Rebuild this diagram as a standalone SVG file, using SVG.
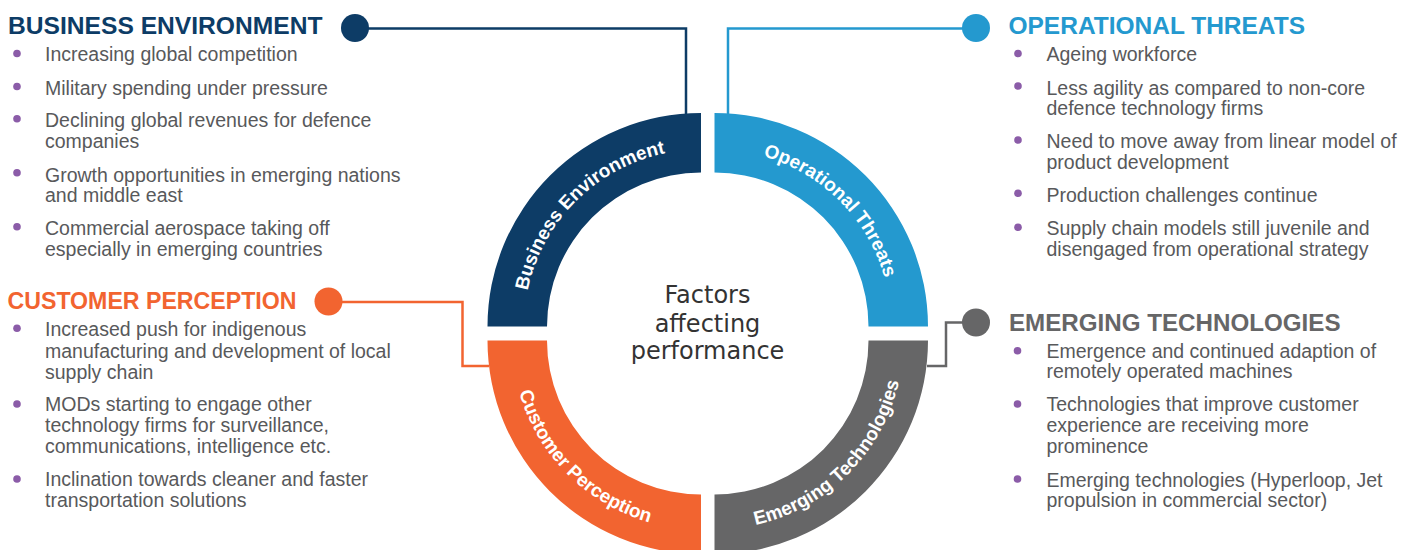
<svg xmlns="http://www.w3.org/2000/svg" width="1407" height="550" viewBox="0 0 1407 550">
<style>
.title{font-family:"Liberation Sans",Arial,sans-serif;font-weight:bold;font-size:24.4px}
.item{font-family:"Liberation Sans",Arial,sans-serif;font-size:19.5px;fill:#58595b}
.dot{fill:#8b5ca8}
.seglabel{font-family:"Liberation Sans",Arial,sans-serif;font-weight:bold;font-size:19px;fill:#ffffff}
.center{font-family:"DejaVu Sans","Liberation Sans",sans-serif;font-size:24px;fill:#333333}
.conn{fill:none;stroke-width:2.5}
</style>
<defs>
<path id="pBE" d="M 524,326.5 A 177 177 0 0 1 701,149.5"/>
<path id="pOT" d="M 714.5,149.5 A 177 177 0 0 1 891.5,326.5"/>
<path id="pCP" d="M 512,340.5 A 189 189 0 0 0 701,529.5"/>
<path id="pET" d="M 714.5,529.5 A 189 189 0 0 0 903.5,340.5"/>
</defs>
<rect width="1407" height="550" fill="#ffffff"/>

<g id="connectors">
<polyline class="conn" stroke="#0d3c66" points="355,28.5 686,28.5 686,114"/>
<polyline class="conn" stroke="#2499cf" points="728,114 728,28.5 976,28.5"/>
<polyline class="conn" stroke="#f26430" points="328.5,302 462.5,302 462.5,366 489,366"/>
<polyline class="conn" stroke="#666667" points="976,322.5 946,322.5 946,366 927,366"/>
</g>

<g id="business-environment">
<path fill="#0d3c66" d="M 487.5,326.5 A 213.5 213.5 0 0 1 701,113 L 701,172.5 A 154 154 0 0 0 547,326.5 Z"/>
<text class="seglabel"><textPath href="#pBE" startOffset="50%" text-anchor="middle">Business Environment</textPath></text>
<circle cx="355" cy="28" r="14" fill="#0d3c66"/>
<text class="title" x="8" y="34.3" fill="#0d3c66" textLength="314.5" lengthAdjust="spacingAndGlyphs">BUSINESS ENVIRONMENT</text>
<circle class="dot" cx="17" cy="53.5" r="3.8"/>
<text class="item" x="45" y="61">Increasing global competition</text>
<circle class="dot" cx="17" cy="86.5" r="3.8"/>
<text class="item" x="45" y="94.5">Military spending under pressure</text>
<circle class="dot" cx="17" cy="118.7" r="3.8"/>
<text class="item" x="45" y="127">Declining global revenues for defence</text>
<text class="item" x="45" y="148">companies</text>
<circle class="dot" cx="17" cy="172.7" r="3.8"/>
<text class="item" x="45" y="181.5">Growth opportunities in emerging nations</text>
<text class="item" x="45" y="202">and middle east</text>
<circle class="dot" cx="17" cy="226.7" r="3.8"/>
<text class="item" x="45" y="235">Commercial aerospace taking off</text>
<text class="item" x="45" y="255.5">especially in emerging countries</text>
</g>

<g id="operational-threats">
<path fill="#2499cf" d="M 714.5,113 A 213.5 213.5 0 0 1 928,326.5 L 868.5,326.5 A 154 154 0 0 0 714.5,172.5 Z"/>
<text class="seglabel"><textPath href="#pOT" startOffset="50%" text-anchor="middle">Operational Threats</textPath></text>
<circle cx="976" cy="28" r="14" fill="#2499cf"/>
<text class="title" x="1008.5" y="34.3" fill="#2499cf" textLength="296.5" lengthAdjust="spacingAndGlyphs">OPERATIONAL THREATS</text>
<circle class="dot" cx="1018" cy="53.5" r="3.8"/>
<text class="item" x="1046.5" y="61">Ageing workforce</text>
<circle class="dot" cx="1018" cy="86" r="3.8"/>
<text class="item" x="1046.5" y="94.5">Less agility as compared to non-core</text>
<text class="item" x="1046.5" y="115">defence technology firms</text>
<circle class="dot" cx="1018" cy="140" r="3.8"/>
<text class="item" x="1046.5" y="148">Need to move away from linear model of</text>
<text class="item" x="1046.5" y="168.5">product development</text>
<circle class="dot" cx="1018" cy="193.3" r="3.8"/>
<text class="item" x="1046.5" y="201.7">Production challenges continue</text>
<circle class="dot" cx="1018" cy="227.3" r="3.8"/>
<text class="item" x="1046.5" y="235">Supply chain models still juvenile and</text>
<text class="item" x="1046.5" y="255.5">disengaged from operational strategy</text>
</g>

<g id="customer-perception">
<path fill="#f26430" d="M 487.5,340.5 A 213.5 213.5 0 0 0 701,554 L 701,494.5 A 154 154 0 0 1 547,340.5 Z"/>
<text class="seglabel"><textPath href="#pCP" startOffset="50%" text-anchor="middle">Customer Perception</textPath></text>
<circle cx="328.5" cy="301.5" r="14" fill="#f26430"/>
<text class="title" x="7.5" y="309.3" fill="#f26430" textLength="289" lengthAdjust="spacingAndGlyphs">CUSTOMER PERCEPTION</text>
<circle class="dot" cx="17" cy="328.3" r="3.8"/>
<text class="item" x="45" y="336">Increased push for indigenous</text>
<text class="item" x="45" y="357.5">manufacturing and development of local</text>
<text class="item" x="45" y="378.5">supply chain</text>
<circle class="dot" cx="17" cy="404" r="3.8"/>
<text class="item" x="45" y="410.7">MODs starting to engage other</text>
<text class="item" x="45" y="431.7">technology firms for surveillance,</text>
<text class="item" x="45" y="452.7">communications, intelligence etc.</text>
<circle class="dot" cx="17" cy="479" r="3.8"/>
<text class="item" x="45" y="486">Inclination towards cleaner and faster</text>
<text class="item" x="45" y="506.7">transportation solutions</text>
</g>

<g id="emerging-technologies">
<path fill="#666667" d="M 928,340.5 A 213.5 213.5 0 0 1 714.5,554 L 714.5,494.5 A 154 154 0 0 0 868.5,340.5 Z"/>
<text class="seglabel"><textPath href="#pET" startOffset="50%" text-anchor="middle">Emerging Technologies</textPath></text>
<circle cx="976" cy="322.5" r="14" fill="#666667"/>
<text class="title" x="1009" y="330.7" fill="#666667" textLength="331.5" lengthAdjust="spacingAndGlyphs">EMERGING TECHNOLOGIES</text>
<circle class="dot" cx="1017.5" cy="350.7" r="3.8"/>
<text class="item" x="1046.5" y="357.7">Emergence and continued adaption of</text>
<text class="item" x="1046.5" y="378.3">remotely operated machines</text>
<circle class="dot" cx="1017.5" cy="404" r="3.8"/>
<text class="item" x="1046.5" y="410.7">Technologies that improve customer</text>
<text class="item" x="1046.5" y="432">experience are receiving more</text>
<text class="item" x="1046.5" y="453">prominence</text>
<circle class="dot" cx="1017.5" cy="479" r="3.8"/>
<text class="item" x="1046.5" y="486.7">Emerging technologies (Hyperloop, Jet</text>
<text class="item" x="1046.5" y="507.3">propulsion in commercial sector)</text>
</g>

<g id="center-label">
<text class="center" text-anchor="middle" x="707.5" y="303.3">Factors</text>
<text class="center" text-anchor="middle" x="707.5" y="331.5">affecting</text>
<text class="center" text-anchor="middle" x="707.5" y="359.3">performance</text>
</g>
</svg>
